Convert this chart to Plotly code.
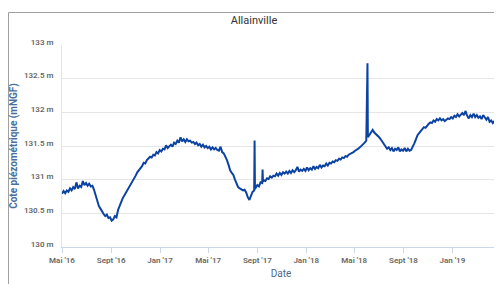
import pandas as pd
import plotly.graph_objects as go

# Readings every 4 days (m NGF) starting 2016-05-01
start_date = "2016-05-01"
step = "4D"
values = [
    130.79, 130.83, 130.80, 130.84, 130.82, 130.87, 130.84, 130.89, 130.86, 130.96,
    130.87, 130.91, 130.89, 130.98, 130.92, 130.95, 130.91, 130.94, 130.90, 130.91,
    130.85, 130.77, 130.68, 130.61, 130.57, 130.52, 130.49, 130.46, 130.48, 130.43,
    130.44, 130.39, 130.41, 130.46, 130.44, 130.55, 130.62, 130.68, 130.73, 130.77,
    130.81, 130.86, 130.88, 130.94, 130.98, 131.02, 131.06, 131.11, 131.14, 131.18,
    131.20, 131.25, 131.24, 131.29, 131.31, 131.34, 131.33, 131.37, 131.36, 131.41,
    131.39, 131.44, 131.42, 131.46, 131.45, 131.51, 131.47, 131.50, 131.52, 131.49,
    131.55, 131.53, 131.58, 131.55, 131.63, 131.57, 131.60, 131.56, 131.60, 131.57,
    131.58, 131.55, 131.56, 131.53, 131.55, 131.51, 131.53, 131.49, 131.52, 131.48,
    131.50, 131.47, 131.49, 131.45, 131.48, 131.45, 131.47, 131.44, 131.43, 131.49,
    131.41, 131.39, 131.35, 131.29, 131.22, 131.14, 131.10, 131.07, 131.00, 130.95,
    130.89, 130.87, 130.86, 130.84, 130.85, 130.81, 130.74, 130.70, 130.76, 130.82,
    130.84, 130.88, 130.92, 130.90, 130.96, 130.95, 130.99, 130.98, 131.02, 131.01,
    131.05, 131.03, 131.06, 131.05, 131.09, 131.06, 131.10, 131.07, 131.11, 131.09,
    131.12, 131.09, 131.13, 131.10, 131.14, 131.11, 131.14, 131.19, 131.12, 131.15,
    131.13, 131.16, 131.13, 131.18, 131.14, 131.17, 131.15, 131.20, 131.16, 131.19,
    131.17, 131.22, 131.18, 131.21, 131.20, 131.24, 131.21, 131.25, 131.24, 131.27,
    131.26, 131.29, 131.28, 131.31, 131.30, 131.33, 131.32, 131.35, 131.34, 131.37,
    131.38, 131.40, 131.41, 131.43, 131.44, 131.46, 131.48, 131.50, 131.52, 131.55,
    131.58, 131.63, 131.67, 131.71, 131.74, 131.70, 131.68, 131.65, 131.63, 131.60,
    131.56, 131.52, 131.48, 131.46, 131.48, 131.44, 131.47, 131.42, 131.46, 131.44,
    131.48, 131.42, 131.45, 131.43, 131.47, 131.42, 131.46, 131.43, 131.44, 131.48,
    131.54, 131.60, 131.66, 131.69, 131.72, 131.75, 131.78, 131.77, 131.81, 131.83,
    131.85, 131.84, 131.88, 131.86, 131.90, 131.88, 131.91, 131.88, 131.90, 131.87,
    131.89, 131.91, 131.90, 131.93, 131.91, 131.95, 131.93, 131.97, 131.94, 131.97,
    131.99, 131.96, 132.02, 131.95, 131.91, 131.96, 131.93, 131.98, 131.93, 131.96,
    131.92, 131.94, 131.90, 131.96, 131.92, 131.89, 131.93, 131.86, 131.88, 131.84,
    131.87, 131.85, 131.82,
]

# Short-lived peaks (daily readings)
spike_dates = ["2017-08-25", "2017-08-26",
               "2017-09-14", "2017-09-15",
               "2018-06-03"]
spike_values = [131.58, 130.86,
                131.15, 130.97,
                132.73]

tick_dates = ["2016-05-01", "2016-09-01", "2017-01-01", "2017-05-01", "2017-09-01",
              "2018-01-01", "2018-05-01", "2018-09-01", "2019-01-01"]
tick_labels = ["Mai '16", "Sept '16", "Jan '17", "Mai '17", "Sept '17",
               "Jan '18", "Mai '18", "Sept '18", "Jan '19"]
y_ticks = [130, 130.5, 131, 131.5, 132, 132.5, 133]
y_labels = ["130 m", "130.5 m", "131 m", "131.5 m", "132 m", "132.5 m", "133 m"]

base = pd.DataFrame({
    "date": pd.date_range(start_date, periods=len(values), freq=step),
    "value": values,
})
spikes = pd.DataFrame({"date": pd.to_datetime(spike_dates), "value": spike_values})
df = pd.concat([base, spikes]).sort_values("date").reset_index(drop=True)

# The page body has an 8px margin, so the figure is drawn 8px in from the window corner
OFF = 8
W, H = 502 - OFF, 284 - OFF
L, R, T, B = 62 - OFF, 2, 45 - OFF, 284 - 247
pw, ph = W - L - R, H - T - B

fig = go.Figure()
fig.add_trace(go.Scatter(
    x=df["date"], y=df["value"], mode="lines",
    line=dict(color="#0c43a3", width=2), showlegend=False,
))

def px_x(p):
    return (p - OFF - L) / pw

def px_y(p):
    return (H - B - (p - OFF)) / ph

fig.add_shape(type="rect", xref="paper", yref="paper",
              x0=px_x(8.5), x1=px_x(540), y0=px_y(320), y1=px_y(12.5),
              line=dict(color="#a0a0a0", width=1), fillcolor="rgba(0,0,0,0)", layer="below")

fig.update_layout(
    width=W, height=H,
    margin=dict(l=L, r=R, t=T, b=B),
    paper_bgcolor="white", plot_bgcolor="white",
    title=dict(text="Allainville", x=px_x(254), xref="paper", xanchor="center",
               y=1 - (20 - OFF) / H, yanchor="middle", yref="container",
               font=dict(family="Roboto", size=11, color="#333333")),
    font=dict(family="Roboto"),
)
fig.update_xaxes(
    type="date", range=["2016-05-01", "2019-04-30"],
    tickvals=tick_dates, ticktext=tick_labels,
    showgrid=False, showline=True, linecolor="#ccd6eb", linewidth=1,
    ticks="outside", ticklen=5, tickcolor="#ccd6eb",
    tickfont=dict(family="Roboto", size=8, color="#666666", weight=600),
    title=dict(text="Date", font=dict(family="Roboto", size=10, color="#4d6a8a"), standoff=6),
    zeroline=False,
)
fig.update_yaxes(
    range=[130, 133], tickvals=y_ticks, ticktext=y_labels,
    showgrid=True, gridcolor="#e6e6e6", gridwidth=1,
    showline=True, linecolor="#dfe6f0", linewidth=1,
    ticks="outside", ticklen=6, tickcolor="rgba(0,0,0,0)",
    tickfont=dict(family="Roboto", size=8, color="#666666", weight=600),
    ticklabelshift=-3,
    title=dict(text="Cote piézométrique (mNGF)",
               font=dict(family="Roboto", size=10, color="#4a6f9c", weight="bold"), standoff=8),
    zeroline=False,
)

fig.write_html("out.html")
